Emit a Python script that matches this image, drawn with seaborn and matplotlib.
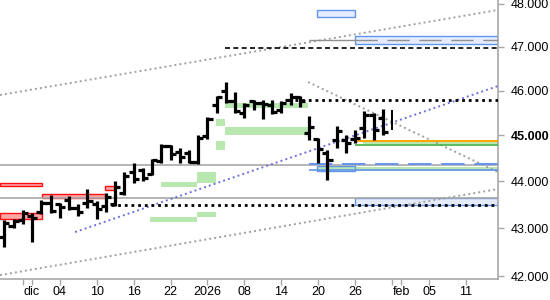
import matplotlib
matplotlib.use("Agg")
import matplotlib.pyplot as plt
import matplotlib.ticker as mticker
from matplotlib.patches import Rectangle
import seaborn as sns
import pandas as pd

# ---------------- data ----------------
day = list(range(-3, 40))  # trading-day index, 0 = 1 dic
open_ = [42812, 43044, 43171, 43256, 43340, 43533, 43512, 43597, 43426, 43533, 43512, 43469, 43512,
         43747, 44200, 44243, 44157, 44439, 44768, 44636, 44614, 44418, 44988,
         45678, 45993, 45768, 45499, 45768, 45723, 45678, 45566, 45790, 45857,
         45055, 44922, 44614, 44900, 44900, 44922, 45165, 45454, 45388, 45300]
high = [43171, 43192, 43383, 43319, 43597, 43704, 43533, 43682, 43512, 43833, 43576, 43747, 44005,
        44200, 44396, 44287, 44483, 44812, 44790, 44724, 44680, 45010, 45410,
        45880, 46196, 45970, 45723, 45790, 45790, 45790, 45768, 45948, 45880,
        45432, 44944, 44680, 45210, 45010, 45121, 45544, 45499, 45588, 45566]
low = [42603, 43001, 43086, 42707, 43298, 43319, 43213, 43383, 43256, 43426, 43192, 43340, 43469,
       43704, 43962, 44005, 44135, 44396, 44461, 44396, 44396, 44374, 44922,
       45499, 45723, 45499, 45388, 45566, 45365, 45477, 45499, 45678, 45633,
       44900, 44396, 44027, 44724, 44614, 44834, 44944, 44900, 45010, 45121]
close = [43107, 43150, 43319, 43213, 43533, 43362, 43447, 43426, 43340, 43576, 43404, 43661, 43876,
         44113, 44049, 44070, 44461, 44768, 44592, 44527, 44418, 44944, 45365,
         45857, 45768, 45544, 45678, 45723, 45700, 45521, 45723, 45857, 45768,
         45188, 44702, 44461, 45099, 44834, 44944, 45454, 45121, 45077, 45300]

x_tick_pos = [0, 3, 7, 11, 15, 19, 23, 27, 31, 35, 40, 43, 47]
x_tick_labels = ["dic", "04", "10", "16", "22", "2026", "08", "14", "20", "26", "feb", "05", "11"]
month_end_pos = [-1, 39]
y_tick_vals = [42000, 43000, 44000, 45000, 46000, 47000, 48000]
last_price_tick = 45000

# full-width support/resistance levels
gray_levels = [44352, 43640]

# zones: start, end, low, high
green_x0 = [20.9, 19.9, 20.9, 19.9, 17.9, 14.0, 12.8, 17.9, 30.9, 35.9]
green_x1 = [29.9, 20.9, 29.9, 20.9, 19.9, 17.9, 17.9, 19.9, 50.5, 50.5]
green_lo = [45611, 45210, 45010, 44680, 43962, 43876, 43128, 43235, 44221, 44812]
green_hi = [45723, 45365, 45188, 44878, 44200, 43984, 43235, 43340, 44309, 44878]

red_x0 = [-3.5, 1.1, -3.5, 7.9]
red_x1 = [1.1, 7.9, 1.1, 9.0]
red_lo = [43897, 43640, 43192, 43811]
red_hi = [43962, 43725, 43319, 43897]

blue_x0 = [35.0, 30.9, 35.0]
blue_x1 = [50.5, 35.0, 50.5]
blue_lo = [47066, 47695, 43490]
blue_hi = [47252, 47859, 43640]

blue_outline = (30.9, 35.0, 44221, 44330)

# trend lines: (x values, y values)
trend_upper = ([-3.47, 50.47], [45903, 47859])
trend_lower = ([-3.47, 50.47], [42020, 43833])
trend_blue = ([4.66, 50.47], [42917, 46106])
trend_down = ([29.9, 50.47], [46196, 44200])

# partial levels: price, start
black_dotted = [(45790, 28.5), (43490, 8.5)]
black_dashed = (46974, 20.9)
gray_dashed = (47160, 35.0)
gray_short = (47160, 30.0, 35.0)
blue_dashed = (44374, 30.0)
blue_solid = (44243, 30.0)
orange_level = (44878, 35.0)
green_level = (44790, 35.0)

# ---------------- figure ----------------
sns.set_theme(style="white")
plt.rcParams["font.family"] = ["Liberation Sans", "DejaVu Sans"]

XMIN, XMAX = -3.47, 50.47
fig = plt.figure(figsize=(5.5, 3.0), dpi=100)
ax = fig.add_axes([0, 21 / 300, 498 / 550, 279 / 300])
ax.set_facecolor("white")
ax.set_yscale("log")
ax.set_xlim(XMIN, XMAX)
ax.set_ylim(41940, 48094)

GREEN = "#b8e8b0"
for x0, x1, lo, hi in zip(green_x0, green_x1, green_lo, green_hi):
    ax.add_patch(Rectangle((x0, lo), x1 - x0, hi - lo, facecolor=GREEN, edgecolor="none", zorder=1))
for x0, x1, lo, hi in zip(blue_x0, blue_x1, blue_lo, blue_hi):
    ax.add_patch(Rectangle((x0, lo), x1 - x0, hi - lo, facecolor="#e6ecff", edgecolor="#6495ed", lw=1, zorder=2))
bx0, bx1, blo, bhi = blue_outline
ax.add_patch(Rectangle((bx0, blo), bx1 - bx0, bhi - blo, facecolor="none", edgecolor="#6495ed", lw=1, zorder=2))
for x0, x1, lo, hi in zip(red_x0, red_x1, red_lo, red_hi):
    ax.add_patch(Rectangle((x0, lo), x1 - x0, hi - lo, facecolor="#ffa8a8", edgecolor="#ff1010", lw=1, zorder=2))

for lv in gray_levels:
    ax.axhline(lv, color="#a8a8a8", lw=1.2, zorder=2)

dot = (0, (1, 1.6))
for (xs, ys), col in [(trend_upper, "#a0a0a0"), (trend_lower, "#a0a0a0"),
                      (trend_blue, "#7070dd"), (trend_down, "#a0a0a0")]:
    sns.lineplot(x=xs, y=ys, ax=ax, color=col, lw=1.4, linestyle=dot, dash_capstyle="butt", zorder=3)

for lv, xs in black_dotted:
    ax.hlines(lv, xs, XMAX, color="black", lw=2.0, linestyles=[(0, (1, 1.4))], zorder=3)
ax.hlines(black_dashed[0], black_dashed[1], XMAX, color="black", lw=1.2, linestyles=[(0, (3, 2))], zorder=3)
ax.hlines(gray_dashed[0], gray_dashed[1], XMAX, color="#909090", lw=1.0, linestyles=[(0, (16, 7))], zorder=3)
ax.hlines(gray_short[0], gray_short[1], gray_short[2], color="#909090", lw=1.0, zorder=3)
ax.hlines(blue_dashed[0], blue_dashed[1], XMAX, color="#6495ed", lw=1.4, linestyles=[(0, (12, 5))], zorder=3)
ax.hlines(blue_solid[0], blue_solid[1], XMAX, color="#6495ed", lw=1.2, zorder=3)
ax.hlines(orange_level[0], orange_level[1], XMAX, color="#ffa500", lw=1.4, zorder=3)
ax.hlines(green_level[0], green_level[1], XMAX, color="#40b040", lw=1.2, zorder=3)

# OHLC bars
df = pd.DataFrame({"day": day, "open": open_, "high": high, "low": low, "close": close})
full = df.iloc[:-1]
last = df.iloc[-1]
TW = 0.55
ax.vlines(full["day"], full["low"], full["high"], color="black", lw=2.3, zorder=5)
ax.hlines(full["open"], full["day"] - TW, full["day"], color="black", lw=2.3, zorder=5)
ax.hlines(full["close"], full["day"], full["day"] + TW, color="black", lw=2.3, zorder=5)
ax.vlines([last["day"]], [last["low"]], [last["high"]], color="black", lw=1.4, zorder=5)

# axes styling
for s in ["top", "left"]:
    ax.spines[s].set_visible(False)
for s in ["right", "bottom"]:
    ax.spines[s].set_visible(True)
    ax.spines[s].set_color("#a8a8a8")
    ax.spines[s].set_linewidth(1.2)
ax.grid(False)

ax.yaxis.tick_right()
ax.yaxis.set_major_locator(mticker.FixedLocator(y_tick_vals))
ax.yaxis.set_minor_locator(mticker.NullLocator())
ax.yaxis.set_major_formatter(mticker.FuncFormatter(lambda v, p: f"{v:,.0f}".replace(",", ".")))
ax.tick_params(axis="y", which="major", right=True, left=False, length=4, width=1, color="#a8a8a8",
               labelsize=9, pad=5, labelcolor="black")

ax.xaxis.set_major_locator(mticker.FixedLocator(x_tick_pos))
ax.xaxis.set_major_formatter(mticker.FixedFormatter(x_tick_labels))
ax.xaxis.set_minor_locator(mticker.FixedLocator(month_end_pos))
ax.tick_params(axis="x", which="both", bottom=True, length=4, width=1, color="#a8a8a8",
               labelsize=9, pad=1, labelcolor="black")

for t, v in zip(ax.yaxis.get_major_ticks(), y_tick_vals):
    if v == last_price_tick:
        t.label2.set_fontweight("bold")

fig.savefig("out.png", dpi=100, facecolor="white")
